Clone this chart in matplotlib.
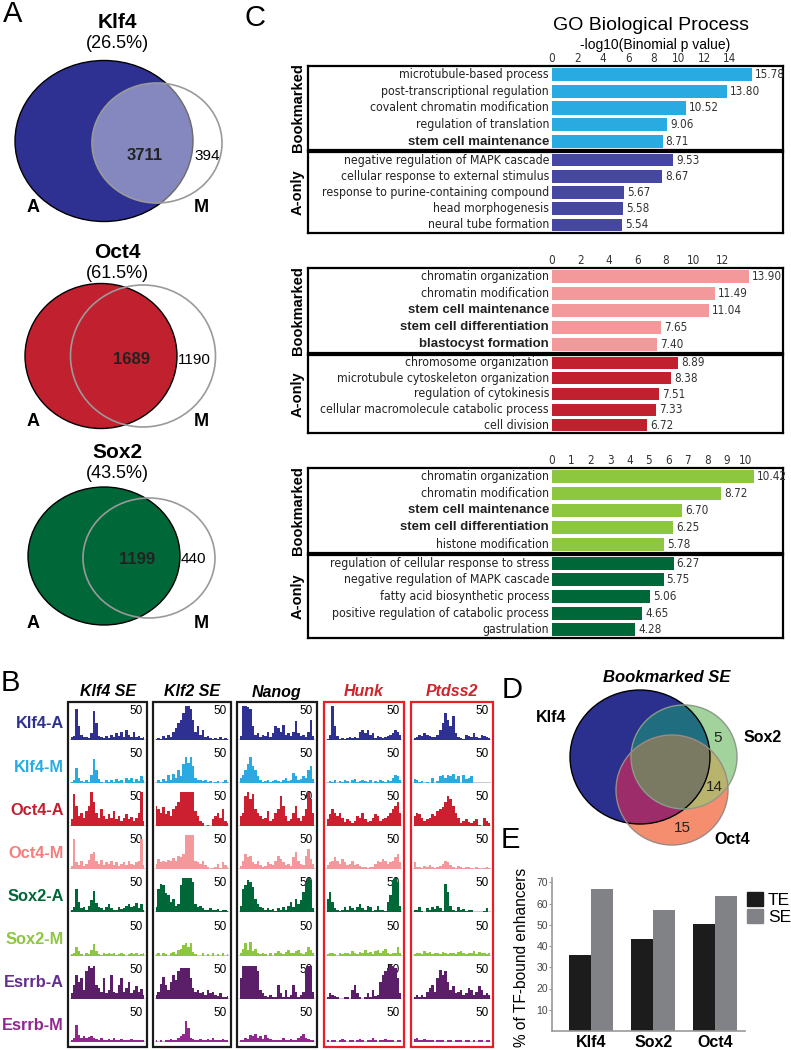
import os
import numpy as np
import matplotlib
matplotlib.use("Agg")
import matplotlib.pyplot as plt
from matplotlib import font_manager as fm
from matplotlib.font_manager import FontProperties
from matplotlib.patches import Ellipse, Rectangle, Patch

plt.rcParams["font.family"] = ["Liberation Sans", "DejaVu Sans"]

W, H = 791, 1050

# ---------------- data ----------------
# panel A: active (A) vs mitotic (M) peaks
venn_tf = ["Klf4", "Oct4", "Sox2"]
venn_pct = ["(26.5%)", "(61.5%)", "(43.5%)"]
venn_shared = [3711, 1689, 1199]
venn_m_only = [394, 1190, 440]

# panel C: GO terms, -log10(binomial p)
c1_book_terms = ["microtubule-based process", "post-transcriptional regulation",
                 "covalent chromatin modification", "regulation of translation",
                 "stem cell maintenance"]
c1_book_vals = [15.78, 13.80, 10.52, 9.06, 8.71]
c1_aonly_terms = ["negative regulation of MAPK cascade", "cellular response to external stimulus",
                  "response to purine-containing compound", "head morphogenesis",
                  "neural tube formation"]
c1_aonly_vals = [9.53, 8.67, 5.67, 5.58, 5.54]

c2_book_terms = ["chromatin organization", "chromatin modification", "stem cell maintenance",
                 "stem cell differentiation", "blastocyst formation"]
c2_book_vals = [13.90, 11.49, 11.04, 7.65, 7.40]
c2_aonly_terms = ["chromosome organization", "microtubule cytoskeleton organization",
                  "regulation of cytokinesis", "cellular macromolecule catabolic process",
                  "cell division"]
c2_aonly_vals = [8.89, 8.38, 7.51, 7.33, 6.72]

c3_book_terms = ["chromatin organization", "chromatin modification", "stem cell maintenance",
                 "stem cell differentiation", "histone modification"]
c3_book_vals = [10.42, 8.72, 6.70, 6.25, 5.78]
c3_aonly_terms = ["regulation of cellular response to stress", "negative regulation of MAPK cascade",
                  "fatty acid biosynthetic process", "positive regulation of catabolic process",
                  "gastrulation"]
c3_aonly_vals = [6.27, 5.75, 5.06, 4.65, 4.28]

bold_terms = ["stem cell maintenance", "stem cell differentiation", "blastocyst formation"]

# panel B: genome browser tracks (signal, clipped at 50)
track_names = ["Klf4-A", "Klf4-M", "Oct4-A", "Oct4-M", "Sox2-A", "Sox2-M", "Esrrb-A", "Esrrb-M"]
track_colors = ["#2e3192", "#29abe2", "#cc2030", "#f4999b", "#006838", "#8dc63f", "#5a1f68", "#92278f"]
label_colors = ["#2e3192", "#29abe2", "#c1202f", "#f27e7e", "#006838", "#8dc63f", "#662d91", "#92278f"]
loci = ["Klf4 SE", "Klf2 SE", "Nanog", "Hunk", "Ptdss2"]

klf4_se = [
    [4, 6, 45, 20, 8, 4, 5, 3, 10, 42, 25, 6, 4, 3, 6, 3, 8, 4, 10, 6, 12, 4, 15, 8, 5, 12, 4, 6, 3, 5],
    [2, 4, 22, 8, 3, 2, 4, 2, 12, 36, 20, 6, 2, 0, 4, 2, 5, 2, 6, 3, 5, 0, 7, 4, 8, 2, 6, 3, 10, 4],
    [10, 48, 30, 15, 20, 12, 22, 30, 50, 35, 20, 12, 25, 15, 10, 18, 12, 22, 10, 15, 8, 12, 18, 10, 14, 8, 12, 20, 50, 8],
    [5, 45, 10, 6, 12, 5, 8, 14, 22, 25, 12, 8, 14, 6, 10, 8, 12, 6, 10, 5, 8, 10, 6, 12, 8, 6, 10, 12, 45, 6],
    [4, 8, 35, 15, 6, 8, 4, 10, 18, 32, 14, 8, 6, 4, 8, 12, 6, 4, 3, 8, 5, 6, 10, 12, 8, 10, 14, 6, 12, 4],
    [2, 4, 12, 6, 2, 0, 3, 2, 8, 17, 6, 2, 1, 3, 2, 4, 2, 3, 1, 2, 3, 2, 0, 2, 4, 2, 3, 1, 2, 3],
    [8, 20, 35, 25, 30, 12, 40, 48, 45, 48, 20, 15, 10, 30, 8, 12, 35, 10, 8, 20, 30, 10, 15, 25, 8, 12, 18, 10, 14, 6],
    [2, 6, 25, 10, 6, 8, 5, 7, 8, 6, 4, 3, 5, 2, 3, 4, 2, 5, 3, 2, 4, 3, 2, 3, 4, 2, 3, 2, 3, 2],
]
klf2_se = [
    [2, 3, 2, 6, 3, 8, 4, 12, 18, 25, 30, 40, 50, 50, 45, 30, 12, 20, 8, 15, 4, 6, 3, 2, 3, 2, 4, 2, 3, 2],
    [0, 4, 2, 6, 3, 12, 4, 14, 8, 20, 10, 28, 38, 30, 38, 25, 8, 4, 5, 3, 4, 2, 3, 0, 2, 3, 0, 2, 4, 2],
    [30, 25, 20, 28, 18, 22, 15, 25, 30, 35, 50, 50, 50, 50, 50, 50, 22, 15, 8, 4, 0, 2, 0, 10, 15, 20, 12, 25, 8, 4],
    [8, 15, 10, 12, 10, 14, 12, 16, 12, 20, 18, 22, 50, 50, 50, 50, 12, 10, 8, 12, 6, 4, 0, 2, 4, 8, 2, 10, 6, 4],
    [8, 35, 42, 40, 28, 25, 15, 20, 10, 12, 40, 50, 50, 50, 50, 45, 12, 8, 10, 6, 4, 3, 6, 4, 3, 5, 2, 4, 3, 2],
    [2, 3, 0, 4, 2, 0, 3, 5, 2, 8, 10, 16, 18, 12, 18, 5, 2, 0, 0, 3, 0, 2, 0, 3, 0, 2, 0, 3, 0, 2],
    [5, 10, 22, 32, 20, 12, 25, 35, 28, 40, 45, 45, 45, 45, 30, 15, 10, 12, 8, 10, 6, 12, 8, 10, 6, 4, 8, 3, 2, 4],
    [2, 0, 2, 0, 3, 2, 4, 3, 2, 5, 8, 12, 30, 20, 6, 4, 3, 2, 4, 3, 2, 4, 3, 5, 3, 2, 3, 4, 2, 3],
]
nanog = [
    [6, 50, 50, 48, 45, 20, 8, 10, 5, 8, 6, 12, 5, 10, 20, 18, 12, 22, 8, 10, 6, 12, 28, 10, 6, 8, 5, 12, 30, 6],
    [8, 12, 20, 28, 38, 25, 20, 10, 5, 2, 3, 4, 2, 3, 5, 3, 2, 4, 8, 3, 5, 15, 10, 4, 6, 10, 8, 20, 25, 6],
    [15, 20, 45, 50, 40, 48, 25, 20, 15, 10, 12, 22, 8, 10, 20, 25, 45, 30, 15, 8, 10, 20, 30, 12, 8, 15, 25, 50, 40, 20],
    [5, 12, 22, 18, 20, 10, 8, 12, 6, 4, 5, 10, 8, 6, 12, 20, 15, 10, 6, 8, 5, 18, 25, 12, 8, 6, 20, 30, 15, 8],
    [10, 35, 40, 48, 45, 38, 20, 12, 8, 6, 4, 6, 3, 5, 2, 6, 4, 8, 3, 10, 15, 8, 20, 12, 18, 30, 45, 50, 48, 6],
    [3, 10, 18, 8, 20, 6, 10, 3, 2, 4, 2, 0, 3, 0, 4, 6, 3, 2, 5, 8, 4, 3, 6, 8, 4, 2, 5, 12, 8, 3],
    [30, 48, 48, 48, 48, 48, 48, 40, 12, 8, 4, 3, 5, 2, 3, 20, 8, 3, 12, 3, 6, 20, 10, 3, 5, 10, 45, 48, 48, 10],
    [2, 3, 5, 4, 10, 8, 12, 6, 8, 4, 10, 6, 4, 3, 2, 3, 2, 5, 3, 2, 4, 3, 2, 5, 8, 12, 6, 4, 3, 2],
]
hunk = [
    [2, 8, 50, 20, 6, 2, 3, 2, 3, 4, 3, 4, 3, 12, 15, 10, 14, 8, 10, 3, 6, 4, 3, 5, 6, 8, 10, 15, 12, 8],
    [0, 3, 2, 4, 0, 3, 2, 5, 3, 0, 4, 6, 2, 3, 5, 3, 2, 4, 0, 3, 2, 4, 3, 2, 5, 3, 8, 12, 10, 4],
    [10, 18, 25, 20, 15, 20, 12, 6, 10, 8, 5, 8, 15, 12, 20, 10, 6, 8, 12, 18, 15, 8, 10, 12, 15, 20, 25, 30, 35, 20],
    [6, 10, 12, 18, 12, 8, 15, 10, 6, 8, 12, 6, 8, 5, 3, 4, 2, 3, 4, 8, 12, 10, 15, 12, 8, 10, 12, 18, 22, 10],
    [20, 30, 15, 6, 3, 2, 4, 8, 3, 10, 6, 3, 8, 12, 6, 4, 10, 8, 2, 3, 10, 4, 3, 2, 15, 25, 48, 50, 45, 10],
    [2, 4, 3, 2, 0, 3, 2, 3, 4, 2, 6, 3, 2, 5, 4, 8, 3, 5, 2, 6, 8, 4, 6, 10, 3, 2, 3, 4, 12, 3],
    [3, 8, 6, 4, 2, 0, 0, 3, 2, 0, 12, 20, 8, 3, 0, 2, 8, 3, 12, 4, 6, 25, 35, 40, 45, 50, 48, 45, 30, 8],
    [2, 0, 3, 2, 0, 2, 4, 2, 0, 3, 2, 0, 2, 4, 2, 0, 3, 2, 5, 3, 0, 2, 3, 4, 2, 3, 2, 0, 2, 3],
]
ptdss2 = [
    [3, 5, 8, 6, 10, 8, 6, 4, 5, 8, 15, 25, 40, 30, 20, 35, 10, 4, 3, 2, 8, 6, 4, 10, 5, 3, 8, 6, 4, 3],
    [6, 4, 2, 3, 0, 2, 0, 8, 0, 3, 10, 12, 8, 12, 10, 14, 6, 10, 0, 12, 6, 8, 10, 0, 0, 0, 0, 0, 0, 0],
    [15, 20, 18, 12, 8, 10, 12, 18, 15, 22, 25, 28, 35, 45, 40, 30, 20, 12, 5, 8, 10, 6, 4, 8, 10, 2, 0, 12, 8, 5],
    [10, 4, 3, 2, 5, 3, 6, 4, 2, 3, 5, 8, 12, 10, 6, 4, 2, 5, 3, 2, 4, 3, 2, 0, 3, 2, 0, 2, 3, 2],
    [4, 3, 8, 2, 0, 6, 3, 8, 5, 10, 6, 2, 42, 30, 10, 4, 2, 8, 3, 5, 2, 4, 3, 0, 0, 0, 0, 2, 6, 0],
    [2, 3, 4, 2, 6, 3, 5, 2, 4, 3, 2, 5, 3, 2, 4, 3, 2, 5, 6, 3, 2, 4, 3, 6, 2, 5, 3, 4, 2, 3],
    [3, 5, 2, 6, 3, 10, 15, 20, 10, 30, 42, 35, 40, 25, 12, 18, 8, 10, 12, 5, 8, 15, 12, 6, 10, 18, 12, 6, 8, 5],
    [4, 6, 3, 2, 4, 2, 3, 2, 0, 2, 3, 2, 0, 2, 3, 0, 2, 3, 2, 0, 2, 3, 0, 2, 0, 3, 2, 0, 3, 2],
]
locus_tracks = [klf4_se, klf2_se, nanog, hunk, ptdss2]

# panel D: bookmarked super-enhancers
d_sets = ["Klf4", "Sox2", "Oct4"]
d_counts = [5, 14, 15]

# panel E: % of TF-bound enhancers
e_tf = ["Klf4", "Sox2", "Oct4"]
e_te = [36, 43.5, 50.5]
e_se = [67, 57, 63.5]


def rect(x0, y0, x1, y1):
    return [x0 / W, 1 - y1 / H, (x1 - x0) / W, (y1 - y0) / H]


def find_narrow_font():
    # the GO labels use a narrow face; take whichever condensed font is installed
    prefs = ["liberationsansnarrow-regular", "notosans-condensed.", "dejavusanscondensed.",
             "robotocondensed-regular", "roboto_condensed-regular", "notosans-semicondensed."]
    files = [f.fname for f in fm.fontManager.ttflist]
    for p in prefs:
        for f in files:
            if p in os.path.basename(f).lower():
                return f
    for f in files:
        b = os.path.basename(f).lower()
        if ("narrow" in b or "condensed" in b) and "bold" not in b and "italic" not in b:
            return f
    return None


narrow_file = find_narrow_font()


def nfp(size):
    if narrow_file:
        return FontProperties(fname=narrow_file, size=size)
    return FontProperties(family="Liberation Sans", size=size)


fig = plt.figure(figsize=(W / 100, H / 100), dpi=100)
renderer = fig.canvas.get_renderer()


def fit_size(text, target_px):
    t = fig.text(0, 0, text, fontproperties=nfp(10))
    w = t.get_window_extent(renderer).width
    t.remove()
    return 10 * target_px / w


term_size = min(fit_size("microtubule-based process", 160),
                fit_size("response to purine-containing compound", 236),
                fit_size("cellular macromolecule catabolic process", 229),
                fit_size("regulation of cellular response to stress", 224), 12.5)
num_size = min(fit_size("15.78", 30), 9)

bg = fig.add_axes([0, 0, 1, 1])
bg.set_xlim(0, W)
bg.set_ylim(H, 0)
bg.axis("off")

# panel letters
for letter, (x, y) in zip("ABCDE", [(13, 14), (10, 683), (255, 18), (512, 690), (510, 840)]):
    bg.text(x, y, letter, fontsize=21, ha="center", va="center")

# ---------------- panel A ----------------
venn_fill = ["#2e3192", "#c1202f", "#006838"]
a_geom = [(104, 141, 178, 161), (101, 356, 152, 145), (104, 556, 152, 138)]
m_geom = [(157, 143, 130, 120), (143, 356, 145, 142), (149, 558, 132, 120)]
title_y = [23, 253, 453]
label_y = [207, 422, 624]
count_y = [156, 360, 559]
for i in range(3):
    ax_, ay, aw, ah = a_geom[i]
    mx, my, mw, mh = m_geom[i]
    bg.add_patch(Ellipse((ax_, ay), aw, ah, fc=venn_fill[i], ec="black", lw=1))
    if i == 0:
        bg.add_patch(Ellipse((mx, my), mw, mh, fc="white", alpha=0.42, ec="none"))
    bg.add_patch(Ellipse((mx, my), mw, mh, fc="none", ec="#9a9a9a", lw=1.2))
    bg.text(117, title_y[i], venn_tf[i], fontsize=15, fontweight="bold", ha="center", va="center")
    bg.text(117, title_y[i] + 21, venn_pct[i], fontsize=13, ha="center", va="center")
    bg.text(mx - 12, count_y[i], str(venn_shared[i]), fontsize=12, fontweight="bold",
            ha="center", va="center", color="#222222")
    bg.text(ax_ + aw / 2 + 1, count_y[i], str(venn_m_only[i]), fontsize=11, ha="left", va="center")
    bg.text(33, label_y[i], "A", fontsize=13, fontweight="bold", ha="center", va="center")
    bg.text(201, label_y[i], "M", fontsize=13, fontweight="bold", ha="center", va="center")

# ---------------- panel C ----------------
bg.text(651, 25, "GO Biological Process", fontsize=14, ha="center", va="center")
bg.text(655, 45, "-log10(Binomial p value)", fontsize=10, ha="center", va="center")


def go_chart(book_terms, book_vals, aonly_terms, aonly_vals, ticks, scale, top, mid, bottom,
             c_book, c_aonly):
    x0, x1, zero = 308, 783, 552
    lim = (-(zero - x0) / scale, (x1 - zero) / scale)
    groups = [(book_terms, book_vals, c_book, top, mid, "Bookmarked"),
              (aonly_terms, aonly_vals, c_aonly, mid + 2, bottom, "A-only")]
    for k, (terms, vals, col, y0, y1, lab) in enumerate(groups):
        ax = fig.add_axes(rect(x0, y0, x1, y1))
        ax.set_facecolor("none")
        ax.barh(range(len(vals)), vals, height=0.78, color=col)
        ax.set_xlim(*lim)
        ax.set_ylim(len(vals) - 0.5, -0.5)
        ax.set_yticks([])
        for s in ax.spines.values():
            s.set_linewidth(1.6)
        if k == 0:
            ax.xaxis.tick_top()
            ax.set_xticks(ticks)
            ax.tick_params(axis="x", length=0, pad=1, labelcolor="#333333")
            for t in ax.get_xticklabels():
                t.set_fontproperties(nfp(num_size))
        else:
            ax.set_xticks([])
        for i, (term, v) in enumerate(zip(terms, vals)):
            if term in bold_terms:
                ax.text(-3 / scale, i, term, ha="right", va="center", fontsize=9.5,
                        fontweight="bold", color="#222222")
            else:
                ax.text(-3 / scale, i, term, ha="right", va="center",
                        fontproperties=nfp(term_size), color="#222222")
            ax.text(v + 3 / scale, i, f"{v:.2f}", ha="left", va="center",
                    fontproperties=nfp(num_size), color="#333333")
        bg.text(298, (y0 + y1) / 2, lab, rotation=90, fontsize=10.5, fontweight="bold",
                ha="center", va="center")


go_chart(c1_book_terms, c1_book_vals, c1_aonly_terms, c1_aonly_vals, range(0, 15, 2), 12.7,
         66, 150, 233, "#29abe2", "#4646a3")
go_chart(c2_book_terms, c2_book_vals, c2_aonly_terms, c2_aonly_vals, range(0, 13, 2), 14.2,
         268, 353, 433, "#f4999b", "#c1202f")
go_chart(c3_book_terms, c3_book_vals, c3_aonly_terms, c3_aonly_vals, range(0, 11), 19.4,
         468, 553, 638, "#8dc63f", "#006838")

# ---------------- panel B ----------------
col_left = [68, 153, 237, 324, 411]
col_right = [147, 231, 317, 404, 493]
row_top0, row_h = 702, 43.1
for c, tracks in enumerate(locus_tracks):
    red = c >= 3
    bg.add_patch(Rectangle((col_left[c], row_top0), col_right[c] - col_left[c], 8 * row_h,
                           fc="none", ec="#ed1c24" if red else "#1a1a1a", lw=1.6))
    bg.text((col_left[c] + col_right[c]) / 2, 692, loci[c], fontsize=11.5, fontweight="bold",
            fontstyle="italic", color="#d2232a" if red else "black", ha="center", va="center")
    for r, vals in enumerate(tracks):
        top = row_top0 + r * row_h
        ax = fig.add_axes(rect(col_left[c] + 2, top + 4, col_right[c] - 2, top + 38))
        ax.set_facecolor("none")
        x = np.arange(len(vals))
        ax.fill_between(x, vals, step="mid", color=track_colors[r], lw=0)
        ax.axhline(0, color="#c4c4c4", lw=1.3, zorder=0)
        ax.set_xlim(-0.5, len(vals) - 0.5)
        ax.set_ylim(0, 50)
        ax.axis("off")
        bg.text(col_right[c] - 4, top + 9, "50", fontsize=8.5, ha="right", va="center")

for r, name in enumerate(track_names):
    bg.text(64, row_top0 + r * row_h + 22, name, fontsize=11.8, fontweight="bold",
            color=label_colors[r], ha="right", va="center")

# ---------------- panel D ----------------
bg.text(667, 677, "Bookmarked SE", fontsize=12, fontweight="bold", fontstyle="italic",
        ha="center", va="center")
d_geom = [(640, 757, 140, 134), (684, 757, 106, 104), (672, 790, 112, 110)]
region_col = {
    (1, 0, 0): (43, 47, 142), (0, 1, 0): (163, 211, 156), (0, 0, 1): (245, 141, 111),
    (1, 1, 0): (31, 109, 127), (1, 0, 1): (157, 44, 106), (0, 1, 1): (184, 180, 110),
    (1, 1, 1): (122, 122, 99),
}
gx0, gx1, gy0, gy1 = 560, 760, 680, 860
gx, gy = np.meshgrid(np.arange(gx0, gx1) + 0.5, np.arange(gy0, gy1) + 0.5)
inside = [((gx - cx) / (w / 2)) ** 2 + ((gy - cy) / (h / 2)) ** 2 <= 1 for cx, cy, w, h in d_geom]
img = np.zeros(gx.shape + (4,))
for key, rgb in region_col.items():
    m = np.ones(gx.shape, bool)
    for k in range(3):
        m &= inside[k] if key[k] else ~inside[k]
    img[m, :3] = np.array(rgb) / 255
    img[m, 3] = 1
bg.imshow(img, extent=(gx0, gx1, gy1, gy0), interpolation="bilinear")
bg.set_xlim(0, W)
bg.set_ylim(H, 0)
bg.set_aspect("auto")
bg.add_patch(Ellipse(d_geom[0][:2], d_geom[0][2], d_geom[0][3], fc="none", ec="black", lw=1))
bg.add_patch(Ellipse(d_geom[1][:2], d_geom[1][2], d_geom[1][3], fc="none", ec="#8a9a88", lw=1))
bg.add_patch(Ellipse(d_geom[2][:2], d_geom[2][2], d_geom[2][3], fc="none", ec="#9a8a86", lw=1))
bg.text(551, 718, d_sets[0], fontsize=11.5, fontweight="bold", ha="center", va="center")
bg.text(763, 738, d_sets[1], fontsize=11.5, fontweight="bold", ha="center", va="center")
bg.text(732, 840, d_sets[2], fontsize=11.5, fontweight="bold", ha="center", va="center")
for n, (x, y) in zip(d_counts, [(718, 738), (714, 787), (682, 828)]):
    bg.text(x, y, str(n), fontsize=11, ha="center", va="center", color="#222222")

# ---------------- panel E ----------------
axE = fig.add_axes(rect(552, 878, 745, 1031))
axE.set_facecolor("none")
xe = np.arange(len(e_tf))
axE.bar(xe - 0.178, e_te, 0.355, color="#1c1c1c", label="TE")
axE.bar(xe + 0.178, e_se, 0.355, color="#808285", label="SE")
axE.set_xlim(-0.63, 2.48)
axE.set_ylim(0, 72)
axE.set_yticks(range(10, 71, 10))
axE.tick_params(axis="y", length=2, width=0.8, color="#999999", labelsize=7.5,
                labelcolor="#444444", pad=1)
axE.set_xticks(xe)
axE.set_xticklabels(e_tf, fontsize=11.5, fontweight="bold")
axE.tick_params(axis="x", length=0, pad=3)
for s in ["top", "right"]:
    axE.spines[s].set_visible(False)
for s in ["left", "bottom"]:
    axE.spines[s].set_color("#999999")
    axE.spines[s].set_linewidth(1.2)
bg.text(521, 957, "% of TF-bound enhancers", rotation=90, fontsize=11.2, ha="center", va="center")
axE.legend(handles=[Patch(color="#1c1c1c", label="TE"), Patch(color="#808285", label="SE")],
           loc="upper left", bbox_to_anchor=(747 / W, 1 - 892 / H), bbox_transform=fig.transFigure,
           frameon=False, fontsize=12.5, handlelength=0.9, handleheight=0.9, handletextpad=0.3,
           labelspacing=0.05, borderaxespad=0, borderpad=0)

fig.savefig("out.png", dpi=100)
